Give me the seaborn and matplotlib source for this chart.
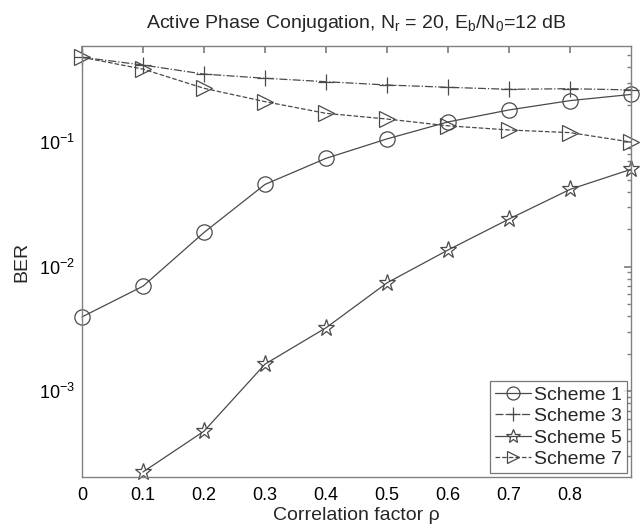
import matplotlib
matplotlib.use("Agg")
import matplotlib.pyplot as plt
import seaborn as sns
import numpy as np
import pandas as pd
from matplotlib.ticker import LogLocator, NullFormatter, FixedLocator

rho = [0.0, 0.1, 0.2, 0.3, 0.4, 0.5, 0.6, 0.7, 0.8, 0.9]
rho5 = [0.1, 0.2, 0.3, 0.4, 0.5, 0.6, 0.7, 0.8, 0.9]
scheme1 = [3.95e-3, 6.97e-3, 1.88e-2, 4.57e-2, 7.4e-2, 1.06e-1, 1.45e-1, 1.81e-1, 2.15e-1, 2.41e-1]
scheme3 = [0.479, 0.415, 0.351, 0.325, 0.305, 0.287, 0.275, 0.265, 0.268, 0.262]
scheme5 = [2.25e-4, 4.78e-4, 1.65e-3, 3.23e-3, 7.41e-3, 1.36e-2, 2.41e-2, 4.17e-2, 6.04e-2]
scheme7 = [0.479, 0.385, 0.27, 0.211, 0.17, 0.153, 0.135, 0.125, 0.119, 0.100]
labels = ["Scheme 1", "Scheme 3", "Scheme 5", "Scheme 7"]
xtick_vals = [0, 0.1, 0.2, 0.3, 0.4, 0.5, 0.6, 0.7, 0.8]

sns.set_theme(style="white")
plt.rcParams['font.family'] = ['Liberation Sans', 'DejaVu Sans']
plt.rcParams['mathtext.fontset'] = 'custom'
plt.rcParams['mathtext.rm'] = 'Liberation Sans'
plt.rcParams['mathtext.it'] = 'Liberation Sans'

fig = plt.figure(figsize=(6.41, 5.28), dpi=100)
ax = fig.add_axes([82/641, 1-477/528, (631-82)/641, (477-46)/528])

col = "#4a4a4a"
series = [
    (rho, scheme1, labels[0], 'o', '-', 11),
    (rho, scheme3, labels[1], '+', '-.', 12),
    (rho5, scheme5, labels[2], '*', '-', 12.5),
    (rho, scheme7, labels[3], '>', '--', 11),
]
for xs, ys, lab, mk, ls, ms in series:
    df = pd.DataFrame({"rho": xs, "BER": ys})
    sns.lineplot(data=df, x="rho", y="BER", ax=ax, color=col, marker=mk,
                 linestyle=ls, markersize=ms, markerfacecolor='none',
                 markeredgecolor=col, markeredgewidth=0.9, linewidth=0.9,
                 label=lab, clip_on=False)

ax.set_yscale('log')
ax.set_xlim(0, 0.9)
ax.set_ylim(2.05e-4, 0.59)
ax.xaxis.set_major_locator(FixedLocator(xtick_vals))
ax.set_xticklabels([("%g" % v) for v in xtick_vals])
ax.yaxis.set_major_locator(LogLocator(base=10, numticks=10))
ax.yaxis.set_minor_locator(LogLocator(base=10, subs=np.arange(2, 10), numticks=10))
ax.yaxis.set_minor_formatter(NullFormatter())

for s in ax.spines.values():
    s.set_color("#808080")
    s.set_linewidth(1.0)
ax.tick_params(axis='both', which='both', direction='in', top=True, right=True,
               colors="#808080", labelcolor="black", labelsize=13)
ax.tick_params(axis='x', which='major', pad=7)
ax.tick_params(axis='y', which='major', pad=5)
ax.tick_params(which='major', length=5)
ax.tick_params(which='minor', length=3)

ax.set_xlabel("Correlation factor ρ", fontsize=14, labelpad=2)
ax.set_ylabel("BER", fontsize=14, labelpad=6)
ax.set_title(r"Active Phase Conjugation, N$_r$ = 20, E$_b$/N$_0$=12 dB", fontsize=14, pad=13)

leg = ax.legend(loc='lower right', fontsize=14, frameon=True, fancybox=False,
                handlelength=1.9, handletextpad=0.15, borderpad=0.25, labelspacing=0.2,
                borderaxespad=0.2, markerscale=0.85)
leg.get_frame().set_edgecolor("#555555")
leg.get_frame().set_linewidth(0.9)

fig.savefig("out.png", dpi=100)
